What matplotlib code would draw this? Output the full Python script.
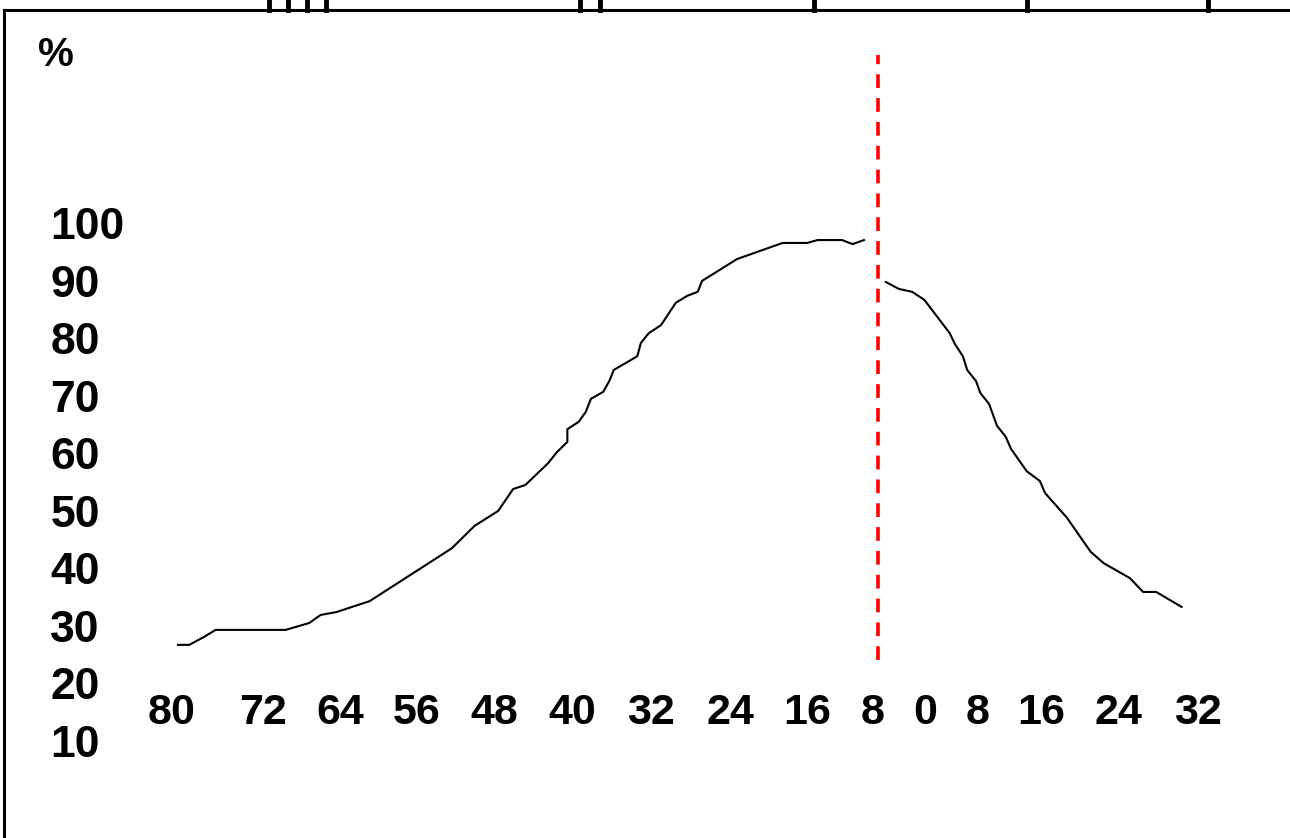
import matplotlib.pyplot as plt
from matplotlib.lines import Line2D

plt.rcParams['font.family'] = ['Liberation Sans', 'DejaVu Sans']

# curve before the dashed line (x in hours, y in %)
x_before = [-80.0, -78.7, -77.0, -75.7, -67.7, -65.0, -63.7, -61.9, -58.1, -48.7,
            -46.1, -43.4, -41.7, -40.3, -37.7, -36.7, -35.5, -35.5, -34.2, -33.4,
            -32.8, -31.4, -30.7, -30.2, -27.5, -27.1, -26.2, -24.8, -23.1, -21.8,
            -20.6, -20.1, -16.1, -10.9, -8.1, -6.9, -4.1, -2.9, -1.6]
y_before = [27.5, 27.5, 28.9, 30.1, 30.1, 31.3, 32.7, 33.2, 35.1, 44.3,
            48.2, 50.8, 54.6, 55.3, 59.1, 61.0, 62.8, 65.0, 66.3, 68.0,
            70.3, 71.5, 73.4, 75.3, 77.7, 80.0, 81.7, 83.1, 87.0, 88.2,
            88.9, 90.8, 94.6, 97.4, 97.4, 97.9, 97.9, 97.2, 97.9]

# curve after the dashed line
x_after = [0.9, 2.4, 3.9, 5.3, 8.2, 8.8, 9.7, 10.2, 11.2, 11.7, 12.7, 13.6,
           14.6, 15.2, 17.0, 18.5, 19.1, 21.6, 24.3, 25.8, 28.8, 30.3, 31.8, 34.7]
y_after = [90.6, 89.4, 88.9, 87.5, 81.7, 79.8, 77.7, 75.3, 73.4, 71.3, 69.4, 65.6,
           63.7, 61.6, 57.7, 56.0, 53.9, 49.6, 43.7, 41.7, 39.1, 36.7, 36.7, 34.1]

y_labels = [100, 90, 80, 70, 60, 50, 40, 30, 20, 10]
x_labels = ['80', '72', '64', '56', '48', '40', '32', '24', '16', '8',
            '0', '8', '16', '24', '32']
x_label_pos = [-80.7, -70.3, -61.4, -52.7, -43.9, -34.9, -25.9, -16.9, -8.1, -0.6,
               5.4, 11.4, 18.6, 27.5, 36.6]

fig = plt.figure(figsize=(12.9, 8.38), dpi=100)
ax = fig.add_axes([0, 0, 1, 1])
ax.set_xlim(-100.34, 47.09)
ax.set_ylim(-6.09, 139.65)
ax.axis('off')

ax.plot(x_before, y_before, color='black', lw=1.5)
ax.plot(x_after, y_after, color='black', lw=1.5)
ax.plot([0, 0], [24.9, 130.1], color='#ff0000', lw=2.6, dashes=(3.8, 2.8))

for v in y_labels:
    ax.text(-94.6, v, str(v), ha='left', va='center', fontsize=32, fontweight='bold')
for p, s in zip(x_label_pos, x_labels):
    ax.text(p, 15.65, s, ha='center', va='center', fontsize=31, fontweight='bold')
ax.text(-96.0, 130.1, '%', ha='left', va='center', fontsize=29, fontweight='bold')

# frame
fx0, fy0 = 4 / 1290, 1 - 10 / 838
fig.add_artist(Line2D([fx0, fx0], [0, fy0], color='black', lw=2.2, transform=fig.transFigure))
fig.add_artist(Line2D([fx0, 1], [fy0, fy0], color='black', lw=2.2, transform=fig.transFigure))

# cut-off marks above the frame
for px in [269, 288, 307, 326, 580, 600, 814, 1027, 1208]:
    fig.add_artist(Line2D([px / 1290, px / 1290], [fy0, 1], color='black', lw=3.5,
                          transform=fig.transFigure))

fig.savefig('out.png', dpi=100)
